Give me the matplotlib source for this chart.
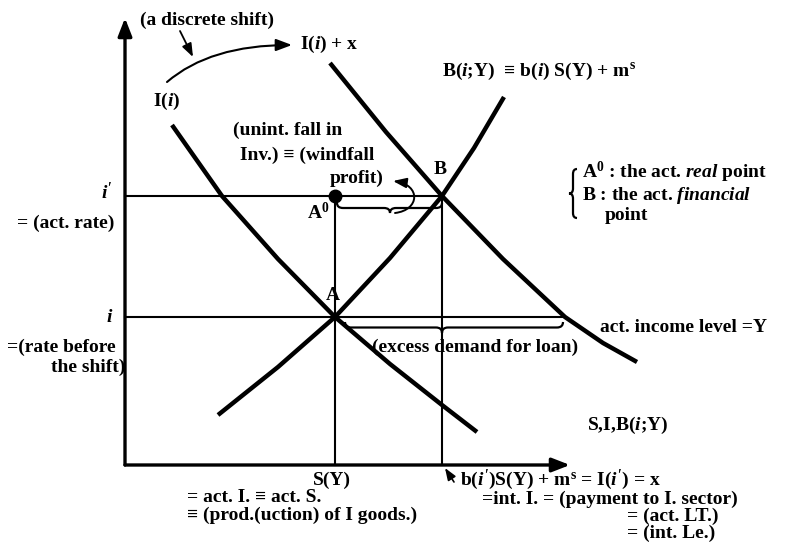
import numpy as np
import matplotlib
matplotlib.use("Agg")
import matplotlib.pyplot as plt
from matplotlib.path import Path
from matplotlib.patches import PathPatch, FancyArrowPatch

plt.rcParams['font.family'] = ['Liberation Serif', 'DejaVu Serif']
plt.rcParams['font.weight'] = 'bold'
plt.rcParams['mathtext.fontset'] = 'custom'
plt.rcParams['mathtext.rm'] = 'Liberation Serif:bold'
plt.rcParams['mathtext.it'] = 'Liberation Serif:bold:italic'
plt.rcParams['mathtext.bf'] = 'Liberation Serif:bold'

# curves (x = S, I, B ; y = interest rate)
inv_x = [0.47, 0.97, 1.53, 2.10, 2.65, 3.17, 3.52]
inv_y = [3.40, 2.69, 2.06, 1.48, 1.01, 0.60, 0.33]
shift_x = [2.05, 2.61, 3.17, 3.78, 4.40, 4.78, 5.12]
shift_y = [4.02, 3.33, 2.69, 2.06, 1.48, 1.22, 1.03]
bond_x = [0.93, 1.53, 2.10, 2.65, 3.17, 3.49, 3.79]
bond_y = [0.50, 0.98, 1.48, 2.07, 2.69, 3.17, 3.68]

s_y = 2.10       # S(Y) : points A and A0
x_b = 3.17       # b(i')S(Y) + m^s : point B
rate_i = 1.48    # i
rate_ip = 2.69   # i'
loan_end = 4.38  # end of the excess demand segment
x_max, y_max = 4.45, 4.47

FS = 14
K = 'black'


def px(x, y):
    # position on the page in picture pixels -> data units
    return ((x - 125) / 100.0, (465 - y) / 100.0)


fig = plt.figure(figsize=(7.88, 5.58), dpi=100)
ax = fig.add_axes([0, 0, 1, 1])
ax.set_xlim(-1.25, 6.63)
ax.set_ylim(-0.93, 4.65)
ax.axis('off')

# axes with arrows
for end in [(0, y_max), (x_max, 0)]:
    ax.add_patch(FancyArrowPatch((0, 0), end, arrowstyle='-|>,head_length=0.9,head_width=0.35',
                                 mutation_scale=12, lw=2.4, color=K, shrinkA=0, shrinkB=0))

# guide lines
ax.plot([0, x_b], [rate_ip, rate_ip], color=K, lw=1.5)
ax.plot([0, loan_end], [rate_i, rate_i], color=K, lw=1.5)
ax.plot([s_y, s_y], [0, rate_ip], color=K, lw=1.5)
ax.plot([x_b, x_b], [0, rate_ip], color=K, lw=1.5)

# the three schedules
for xs, ys in [(inv_x, inv_y), (shift_x, shift_y), (bond_x, bond_y)]:
    ax.plot(xs, ys, color=K, lw=3.2, solid_joinstyle='round', solid_capstyle='butt')

ax.plot(s_y, rate_ip, 'o', ms=9, color=K)


def hbrace(x0, x1, tip, y, d, q=0.06):
    h = y - d / 2
    verts = [(x0, y), (x0, h), (x0 + q, h), (tip - q, h), (tip, h), (tip, y - d),
             (tip, h), (tip + q, h), (x1 - q, h), (x1, h), (x1, y)]
    codes = [Path.MOVETO, Path.CURVE3, Path.CURVE3, Path.LINETO, Path.CURVE3, Path.CURVE3,
             Path.CURVE3, Path.CURVE3, Path.LINETO, Path.CURVE3, Path.CURVE3]
    ax.add_patch(PathPatch(Path(verts, codes), fc='none', ec=K, lw=1.6))


def vbrace(x, y0, y1, w, q=0.05):
    m = (y0 + y1) / 2
    s = x - w / 2
    verts = [(x, y0), (s, y0), (s, y0 - q), (s, m + q), (s, m), (x - w, m),
             (s, m), (s, m - q), (s, y1 + q), (s, y1), (x, y1)]
    codes = [Path.MOVETO, Path.CURVE3, Path.CURVE3, Path.LINETO, Path.CURVE3, Path.CURVE3,
             Path.CURVE3, Path.CURVE3, Path.LINETO, Path.CURVE3, Path.CURVE3]
    ax.add_patch(PathPatch(Path(verts, codes), fc='none', ec=K, lw=1.6))


hbrace(s_y + 0.02, x_b, 2.65, 2.62, 0.10)
hbrace(2.20, loan_end, x_b, 1.43, 0.11)
vbrace(4.52, 2.96, 2.47, 0.08)


def curved_arrow(pts, codes, lw=1.5, ms=12):
    ax.add_patch(FancyArrowPatch(path=Path([px(*p) for p in pts], codes),
                                 arrowstyle='-|>,head_length=0.8,head_width=0.3',
                                 mutation_scale=ms, lw=lw, color=K))


curved_arrow([(167, 82), (210, 45), (292, 45)], [Path.MOVETO, Path.CURVE3, Path.CURVE3])
curved_arrow([(180, 31), (193, 57)], [Path.MOVETO, Path.LINETO], lw=1.3, ms=10)
curved_arrow([(395, 213), (420, 210), (421, 185), (393, 181)],
             [Path.MOVETO, Path.CURVE4, Path.CURVE4, Path.CURVE4], lw=1.4, ms=10)
curved_arrow([(454, 482), (445, 468)], [Path.MOVETO, Path.LINETO], lw=1.2, ms=9)

texts = [
    ('(a discrete shift)', 140, 20, 'left'),
    (r'I($i$) + x', 300, 44, 'left'),
    (r'I($i$)', 153, 101, 'left'),
    (r'B($i$;Y)  ≡ b($i$) S(Y) + m$^{\rm s}$', 442, 71, 'left'),
    ('(unint. fall in', 233, 130, 'left'),
    ('Inv.) ≡ (windfall', 240, 155, 'left'),
    ('profit)', 330, 178, 'left'),
    (r'A$^{0}$', 329, 212, 'right'),
    ('A', 333, 296, 'center'),
    ('B', 440, 170, 'center'),
    (r"$i'$", 113, 192, 'right'),
    ('= (act. rate)', 17, 223, 'left'),
    (r'$i$', 113, 318, 'right'),
    ('=(rate before', 7, 347, 'left'),
    ('the shift)', 125, 367, 'right'),
    ('(excess demand for loan)', 372, 347, 'left'),
    ('act. income level =Y', 600, 327, 'left'),
    (r'A$^{0}$ : the act. $\mathit{real}$ point', 582, 172, 'left'),
    (r'B : the act. $\mathit{financial}$', 582, 196, 'left'),
    ('point', 605, 215, 'left'),
    (r'S,I,B($i$;Y)', 587, 425, 'left'),
    ('S(Y)', 332, 480, 'center'),
    ('= act. I. ≡ act. S.', 187, 497, 'left'),
    ('≡ (prod.(uction) of I goods.)', 187, 515, 'left'),
    (r"b($i'$)S(Y) + m$^{\rm s}$ = I($i'$) = x", 460, 480, 'left'),
    ('=int. I. = (payment to I. sector)', 482, 499, 'left'),
    ('= (act. LT.)', 627, 516, 'left'),
    ('= (int. Le.)', 627, 533, 'left'),
]
for s, x, y, ha in texts:
    ax.text(*px(x, y), s, ha=ha, va='center', fontsize=FS, color=K)

fig.savefig('out.png', dpi=100)
